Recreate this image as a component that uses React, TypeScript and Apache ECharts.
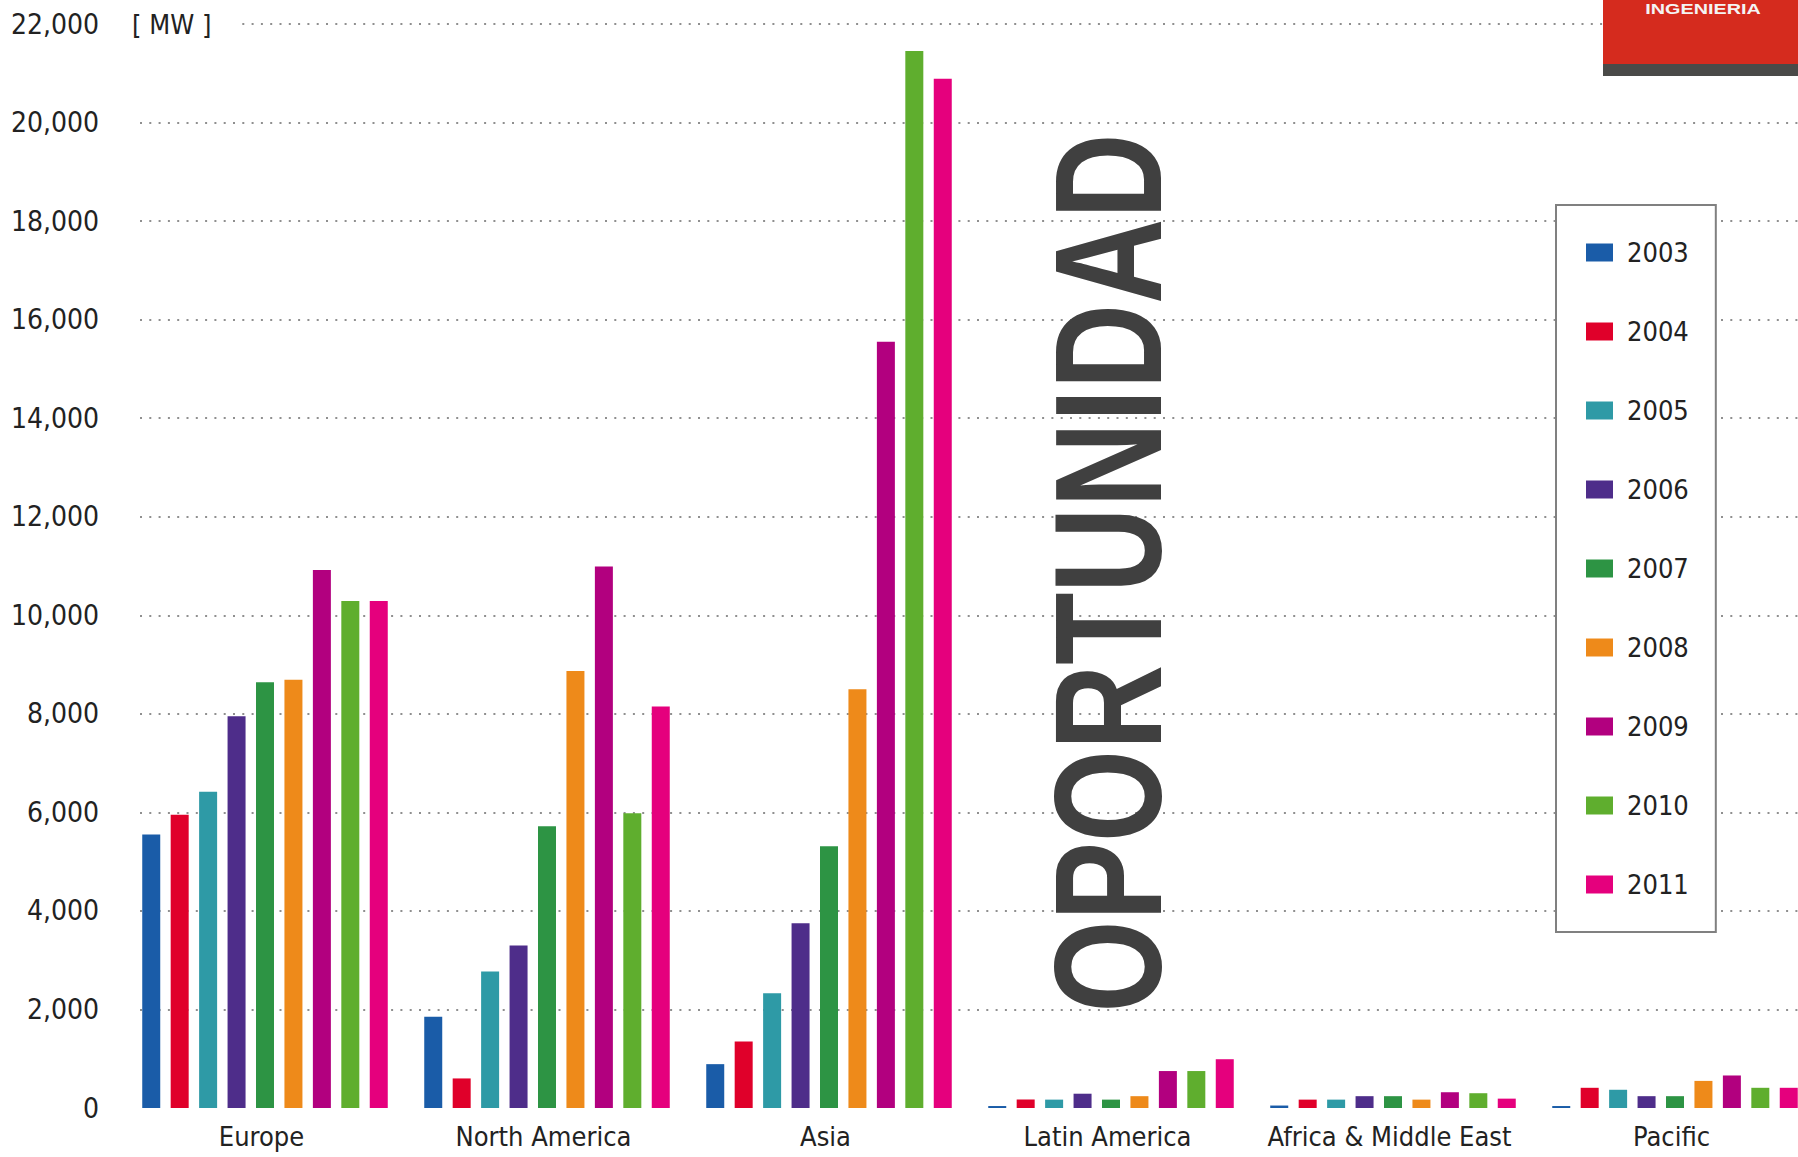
import React, { useEffect, useRef } from "react";
import * as echarts from "echarts";

const regions = ["Europe", "North America", "Asia", "Latin America", "Africa & Middle East", "Pacific"];
const years = ["2003", "2004", "2005", "2006", "2007", "2008", "2009", "2010", "2011"];
const colors = ["#1a5ca8", "#e0002a", "#2e9aa6", "#4e2d8a", "#2d9444", "#ee8a1a", "#b2007f", "#5fae2e", "#e5007d"];

const v2003 = [5550, 1850, 890, 40, 50, 40];
const v2004 = [5950, 600, 1350, 170, 170, 410];
const v2005 = [6420, 2770, 2330, 170, 170, 370];
const v2006 = [7950, 3300, 3750, 290, 240, 240];
const v2007 = [8640, 5720, 5310, 170, 240, 240];
const v2008 = [8690, 8870, 8500, 240, 170, 550];
const v2009 = [10920, 10990, 15550, 750, 320, 660];
const v2010 = [10290, 5980, 21450, 750, 300, 410];
const v2011 = [10290, 8150, 20890, 990, 190, 410];
const seriesValues = [v2003, v2004, v2005, v2006, v2007, v2008, v2009, v2010, v2011];

const yMin = 0;
const yMax = 22000;
const yStep = 2000;
const unitLabel = "[ MW ]";
const watermark = "OPORTUNIDAD";
const logoText = "INGENIERIA";

const narrow = "'Liberation Sans Narrow', 'DejaVu Sans Condensed', 'Roboto Condensed', 'Liberation Sans', sans-serif";

export default function App() {
  const ref = useRef<HTMLDivElement>(null);
  useEffect(() => {
    if (!ref.current) return;
    const chart = echarts.init(ref.current, undefined, { renderer: "svg" });
    const gridColors = [];
    for (let v = yMin; v <= yMax; v += yStep) gridColors.push(v === 0 ? "rgba(0,0,0,0)" : "#8f8f8f");
    chart.setOption({
      animation: false,
      backgroundColor: "#ffffff",
      grid: [
        { left: 124, width: 1692, top: 24, bottom: 49, containLabel: false },
        { left: 140, width: 1700, top: 24, bottom: 49, containLabel: false },
      ],
      xAxis: [
        {
          type: "category",
          gridIndex: 0,
          data: regions,
          axisLine: { show: false },
          axisTick: { show: false },
          axisLabel: { interval: 0, margin: 13, fontFamily: narrow, fontSize: 27, lineHeight: 30, color: "#222", padding: [0, 7, 0, 0] },
        },
        { type: "value", gridIndex: 1, show: false, min: 0, max: 1 },
      ],
      yAxis: [
        { type: "value", gridIndex: 0, min: yMin, max: yMax, interval: yStep, show: false, splitLine: { show: false } },
        {
          type: "value",
          gridIndex: 1,
          min: yMin,
          max: yMax,
          interval: yStep,
          axisLine: { show: false },
          axisTick: { show: false },
          axisLabel: {
            margin: 41,
            fontFamily: narrow,
            fontSize: 28,
            color: "#222",
            formatter: (v: number) => v.toLocaleString("en-US"),
          },
          splitLine: { show: true, lineStyle: { color: gridColors, width: 2, type: [2, 7.3] } },
        },
      ],
      legend: {
        orient: "vertical",
        left: 1556,
        top: 205,
        itemWidth: 27,
        itemHeight: 18,
        itemGap: 52,
        icon: "rect",
        padding: [34, 27, 34, 30],
        borderColor: "#808080",
        borderWidth: 2,
        backgroundColor: "#ffffff",
        textStyle: { fontFamily: narrow, fontSize: 27, lineHeight: 26, color: "#222", padding: [0, 0, 0, 9] },
        data: years,
      },
      series: years.map((y, i) => ({
        name: y,
        type: "bar",
        xAxisIndex: 0,
        yAxisIndex: 0,
        data: seriesValues[i],
        barWidth: 18,
        barGap: "58%",
        itemStyle: { color: colors[i] },
      })),
      graphic: [
        { type: "rect", z: 100, shape: { x: 125, y: 8, width: 110, height: 32 }, style: { fill: "#ffffff" } },
        {
          type: "text",
          z: 101,
          x: 132,
          y: 24,
          style: { text: unitLabel, fontFamily: narrow, fontSize: 27, fill: "#222", verticalAlign: "middle", align: "left" },
        },
        {
          type: "text",
          z: 50,
          x: 1108,
          y: 573,
          rotation: Math.PI / 2,
          scaleX: 0.772,
          style: {
            text: watermark,
            fontFamily: "'Liberation Sans', Arial, sans-serif",
            fontWeight: "bold",
            fontSize: 153,
            fill: "#404040",
            align: "center",
            verticalAlign: "middle",
          },
        },
        { type: "rect", z: 100, shape: { x: 1603, y: 0, width: 220, height: 64 }, style: { fill: "#d52b1e" } },
        { type: "rect", z: 100, shape: { x: 1603, y: 64, width: 220, height: 12 }, style: { fill: "#4a4a48" } },
        {
          type: "text",
          z: 101,
          x: 1703,
          y: 9,
          scaleX: 1.32,
          style: { text: logoText, fontFamily: "'Liberation Sans', Arial, sans-serif", fontWeight: "bold", fontSize: 15, fill: "#f4f4f4", align: "center", verticalAlign: "middle" },
        },
      ],
    });
    return () => chart.dispose();
  }, []);
  return <div ref={ref} style={{ position: "fixed", left: 0, top: 0, width: 1830, height: 1157 }} />;
}
